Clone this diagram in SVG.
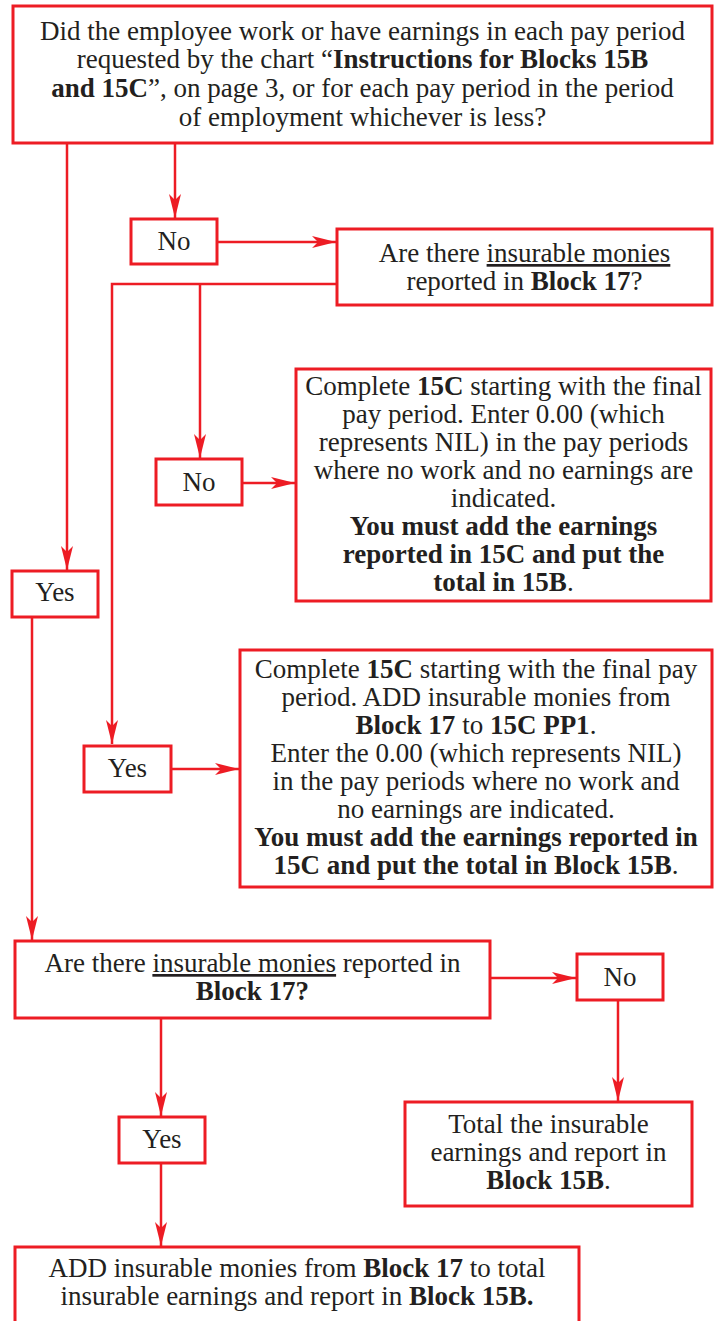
<svg xmlns="http://www.w3.org/2000/svg" width="718" height="1321" viewBox="0 0 718 1321">
<style>
.box{fill:#fff;stroke:#ed1c24;stroke-width:3}
.con{fill:none;stroke:#ed1c24;stroke-width:2.5}
text{font-family:"Liberation Serif","Times New Roman",serif;font-size:27px;fill:#231f20;text-anchor:middle}
.b{font-weight:bold}
.u{text-decoration:underline}
</style>
<defs>
<marker id="ah" markerUnits="userSpaceOnUse" markerWidth="24" markerHeight="12" viewBox="0 0 24 12" refX="24" refY="6" orient="auto">
<path d="M0,0 L24,6 L0,12 L6,6 Z" fill="#ed1c24"/>
</marker>
</defs>
<rect width="718" height="1321" fill="#fff"/>
<g id="connectors">
<path class="con" d="M67,143 V570" marker-end="url(#ah)"/>
<path class="con" d="M175,143 V218" marker-end="url(#ah)"/>
<path class="con" d="M217,242 H336" marker-end="url(#ah)"/>
<path class="con" d="M337,284 H112 V744" marker-end="url(#ah)"/>
<path class="con" d="M200,284 V458" marker-end="url(#ah)"/>
<path class="con" d="M242,483 H295" marker-end="url(#ah)"/>
<path class="con" d="M32,617 V940" marker-end="url(#ah)"/>
<path class="con" d="M171,769 H239" marker-end="url(#ah)"/>
<path class="con" d="M490,978 H576" marker-end="url(#ah)"/>
<path class="con" d="M618,1000 V1101" marker-end="url(#ah)"/>
<path class="con" d="M161,1018 V1116" marker-end="url(#ah)"/>
<path class="con" d="M161,1163 V1246" marker-end="url(#ah)"/>
</g>
<g id="q1">
<rect class="box" x="13" y="6" width="699" height="137"/>
<text x="362.5" y="39.5">Did the employee work or have earnings in each pay period</text>
<text x="362.5" y="68">requested by the chart “<tspan class="b">Instructions for Blocks 15B</tspan></text>
<text x="362.5" y="97"><tspan class="b">and 15C</tspan>”, on page 3, or for each pay period in the period</text>
<text x="362.5" y="125.5">of employment whichever is less?</text>
</g>
<g id="no1">
<rect class="box" x="131" y="219" width="86" height="45"/>
<text x="174" y="250">No</text>
</g>
<g id="q2">
<rect class="box" x="337" y="229" width="375" height="76"/>
<text x="524.5" y="262">Are there <tspan class="u">insurable monies</tspan></text>
<text x="524.5" y="290">reported in <tspan class="b">Block 17</tspan>?</text>
</g>
<g id="no2">
<rect class="box" x="156" y="459" width="86" height="46"/>
<text x="199" y="491">No</text>
</g>
<g id="a1">
<rect class="box" x="296" y="369" width="415" height="232"/>
<text x="503.5" y="395">Complete <tspan class="b">15C</tspan> starting with the final</text>
<text x="503.5" y="423">pay period. Enter 0.00 (which</text>
<text x="503.5" y="451">represents NIL) in the pay periods</text>
<text x="503.5" y="479">where no work and no earnings are</text>
<text x="503.5" y="507">indicated.</text>
<text x="503.5" y="535" class="b">You must add the earnings</text>
<text x="503.5" y="563" class="b">reported in 15C and put the</text>
<text x="503.5" y="591"><tspan class="b">total in 15B</tspan>.</text>
</g>
<g id="yes1">
<rect class="box" x="12" y="571" width="86" height="46"/>
<text x="55" y="601">Yes</text>
</g>
<g id="yes2">
<rect class="box" x="84" y="746" width="87" height="46"/>
<text x="127.5" y="777">Yes</text>
</g>
<g id="a2">
<rect class="box" x="240" y="650" width="472" height="237"/>
<text x="476" y="678">Complete <tspan class="b">15C</tspan> starting with the final pay</text>
<text x="476" y="706">period. ADD insurable monies from</text>
<text x="476" y="734"><tspan class="b">Block 17</tspan> to <tspan class="b">15C PP1</tspan>.</text>
<text x="476" y="762">Enter the 0.00 (which represents NIL)</text>
<text x="476" y="790">in the pay periods where no work and</text>
<text x="476" y="818">no earnings are indicated.</text>
<text x="476" y="846" class="b">You must add the earnings reported in</text>
<text x="476" y="874"><tspan class="b">15C and put the total in Block 15B</tspan>.</text>
</g>
<g id="q3">
<rect class="box" x="15" y="941" width="475" height="77"/>
<text x="252.5" y="972">Are there <tspan class="u">insurable monies</tspan> reported in</text>
<text x="252.5" y="1000" class="b">Block 17?</text>
</g>
<g id="no3">
<rect class="box" x="577" y="954" width="86" height="46"/>
<text x="620" y="986">No</text>
</g>
<g id="a3">
<rect class="box" x="405" y="1102" width="287" height="104"/>
<text x="548.5" y="1133">Total the insurable</text>
<text x="548.5" y="1161">earnings and report in</text>
<text x="548.5" y="1189"><tspan class="b">Block 15B</tspan>.</text>
</g>
<g id="yes3">
<rect class="box" x="119" y="1117" width="86" height="46"/>
<text x="162" y="1148">Yes</text>
</g>
<g id="a4">
<rect class="box" x="15" y="1247" width="564" height="110"/>
<text x="297" y="1277">ADD insurable monies from <tspan class="b">Block 17</tspan> to total</text>
<text x="297" y="1305">insurable earnings and report in <tspan class="b">Block 15B.</tspan></text>
</g>
</svg>
